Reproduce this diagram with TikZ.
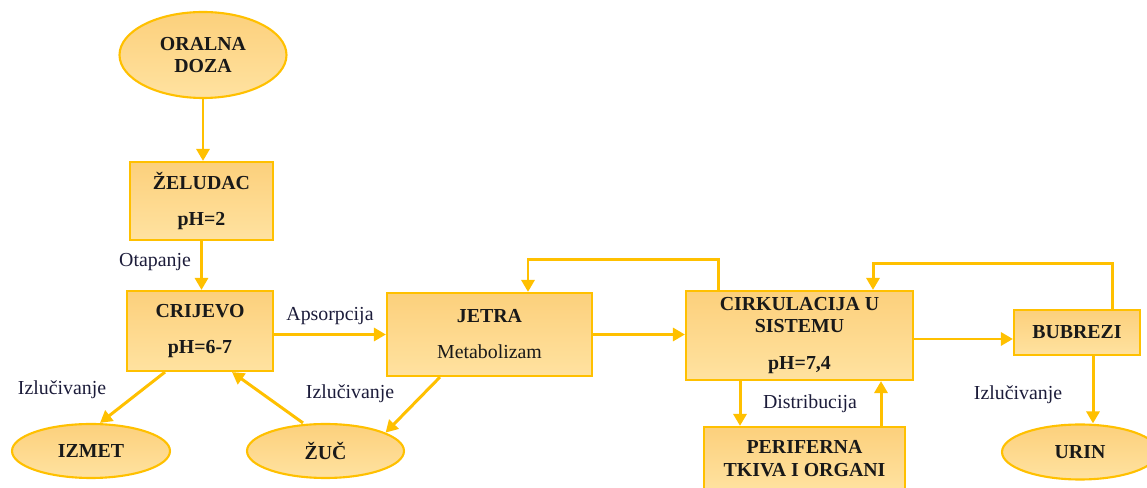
\documentclass[tikz,border=0pt]{standalone}
\usepackage{fontspec}
\setmainfont{Liberation Serif}
\usetikzlibrary{arrows.meta, positioning, calc, shapes.geometric}

\definecolor{gold}{RGB}{255,192,0}
\definecolor{fillTop}{RGB}{252,208,124}
\definecolor{fillBot}{RGB}{255,226,160}
\definecolor{inkNavy}{RGB}{28,28,58}

\begin{document}
\begin{tikzpicture}[
    >={Triangle[length=2.4mm, width=2.6mm]},
    % Core styles
    stage/.style={
        rectangle, draw=gold, line width=1.2pt,
        top color=fillTop, bottom color=fillBot,
        align=center, inner sep=0pt, text=black!90,
        font=\fontsize{11.3}{13}\selectfont\bfseries
    },
    pool/.style={
        ellipse, draw=gold, line width=1.2pt,
        top color=fillTop, bottom color=fillBot,
        align=center, inner sep=0pt, text=black!90,
        font=\fontsize{11.3}{13}\selectfont\bfseries
    },
    flow/.style={->, draw=gold, line width=1.7pt},
    annot/.style={font=\fontsize{11.3}{13}\selectfont, text=inkNavy}
]

\useasboundingbox (0,0) rectangle (22.94,9.76);

% === INTAKE ===
\node[pool, minimum width=3.34cm, minimum height=1.72cm] (oral) at (4.06,8.66) {ORALNA\\DOZA};
\node[stage, minimum width=2.86cm, minimum height=1.56cm] (zeludac) at (4.03,5.74) {ŽELUDAC\\[7pt]pH=2};
\node[stage, minimum width=2.92cm, minimum height=1.60cm] (crijevo) at (4.00,3.14) {CRIJEVO\\[7.5pt]pH=6-7};

% === METABOLISM AND CIRCULATION ===
\node[stage, minimum width=4.10cm, minimum height=1.66cm] (jetra) at (9.79,3.07) {JETRA\\[7.5pt]\mdseries Metabolizam};
\node[stage, minimum width=4.54cm, minimum height=1.78cm] (cirk) at (15.99,3.05) {CIRKULACIJA U\\SISTEMU\\[8pt]pH=7,4};
\node[stage, minimum width=2.52cm, minimum height=0.90cm] (bubrezi) at (21.54,3.11) {BUBREZI};
\node[stage, minimum width=4.02cm, minimum height=1.26cm] (perif) at (16.09,0.59) {PERIFERNA\\TKIVA I ORGANI};

% === OUTPUTS ===
\node[pool, minimum width=3.16cm, minimum height=1.08cm] (izmet) at (1.82,0.74) {IZMET};
\node[pool, minimum width=3.14cm, minimum height=1.08cm] (zuc) at (6.51,0.74) {ŽUČ};
\node[pool, minimum width=3.12cm, minimum height=1.10cm] (urin) at (21.60,0.72) {URIN};

% === MAIN PATH ===
\draw[flow] (oral.south) -- (oral.south |- zeludac.north);
\draw[flow] (zeludac.south) -- (zeludac.south |- crijevo.north);
\draw[flow] (crijevo.east |- jetra.west) -- (jetra.west);
\draw[flow] (jetra.east) -- (jetra.east -| cirk.west);
\draw[flow] ([yshift=-0.07cm]cirk.east) -- ([yshift=-0.07cm]cirk.east -| bubrezi.west);

% === RETURN LOOPS ===
\draw[flow] ([xshift=0.68cm]cirk.north west) -- ++(0,0.6) -| ([xshift=0.77cm]jetra.north);
\draw[flow] ([xshift=0.70cm]bubrezi.north) -- ++(0,0.9) -| ([xshift=1.47cm]cirk.north);

% === DISTRIBUTION ===
\draw[flow] ([xshift=-1.19cm]cirk.south) -- ([xshift=-1.19cm]cirk.south |- perif.north);
\draw[flow] ([xshift=1.63cm]cirk.south |- perif.north) -- ([xshift=1.63cm]cirk.south);

% === EXCRETION ===
\draw[flow] ([xshift=-0.70cm]crijevo.south) -- ([xshift=0.18cm]izmet.north);
\draw[flow] ([xshift=-0.45cm]zuc.north) -- ([xshift=0.64cm]crijevo.south);
\draw[flow] ([xshift=-0.99cm]jetra.south) -- (zuc.17);
\draw[flow] ([xshift=0.32cm]bubrezi.south) -- ([xshift=0.32cm]bubrezi.south |- urin.north);

% Labels
\node[annot] (lblOtap) at (3.10,4.52) {Otapanje};
\node[annot] (lblAps) at (6.60,3.44) {Apsorpcija};
\node[annot] (lblIzl1) at (1.24,1.96) {Izlučivanje};
\node[annot] (lblIzl2) at (7.00,1.88) {Izlučivanje};
\node[annot] (lblDist) at (16.20,1.68) {Distribucija};
\node[annot] (lblIzl3) at (20.36,1.86) {Izlučivanje};

\end{tikzpicture}
\end{document}
